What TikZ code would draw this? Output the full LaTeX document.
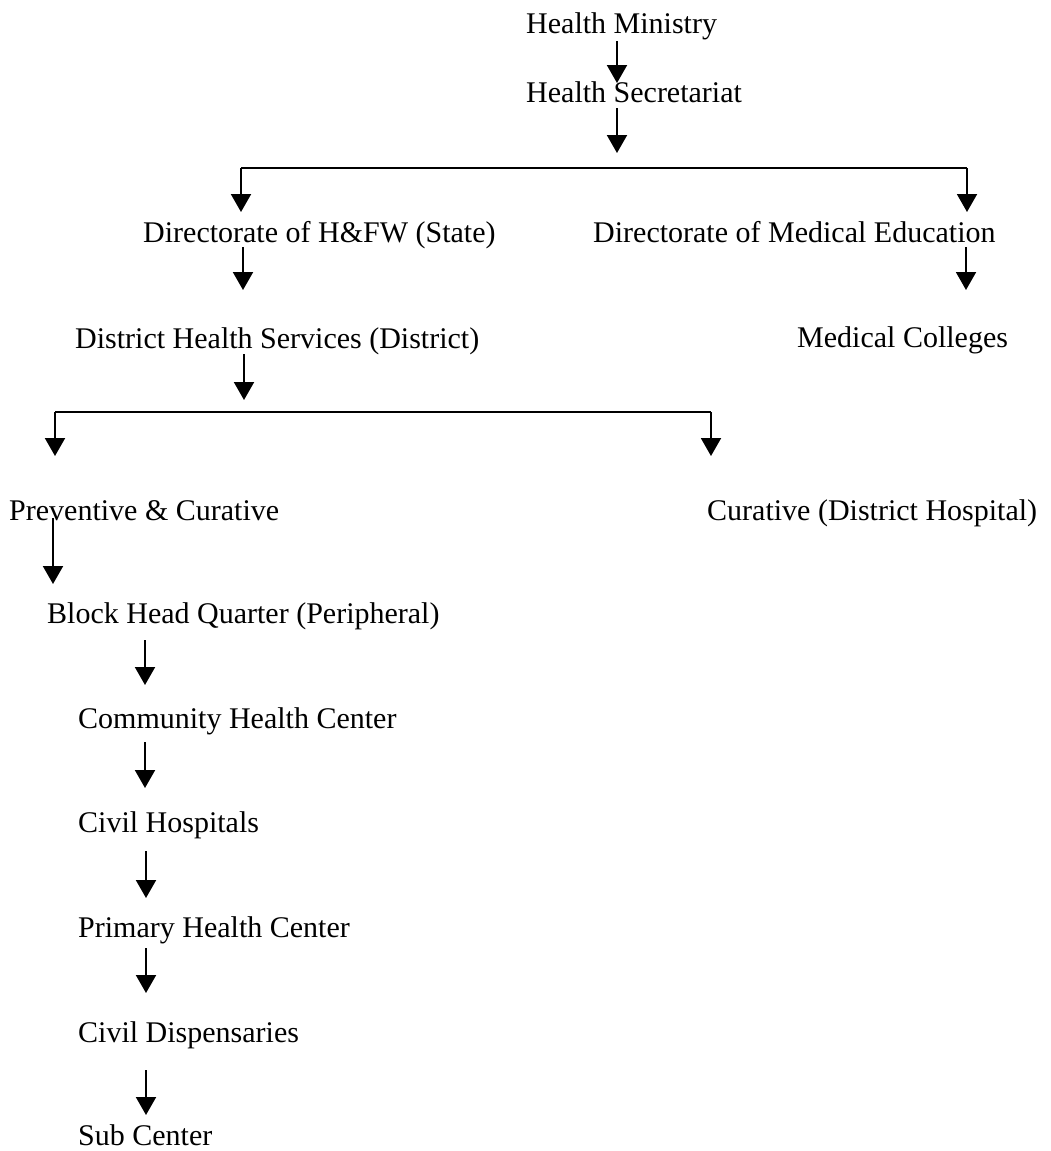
\documentclass[tikz,border=0pt]{standalone}
\usepackage{fontspec}
\setmainfont{Liberation Serif}
\usetikzlibrary{arrows.meta}
\begin{document}
\begin{tikzpicture}[x=1pt,y=-1pt,
  lbl/.style={anchor=base west,inner sep=0pt,font=\fontsize{30}{36}\selectfont},
  arr/.style={line width=2pt,-{Triangle[length=18pt,width=20pt]}},
  ln/.style={line width=2pt}]
\useasboundingbox[fill=white] (0,0) rectangle (1050,1151);
% text nodes
\node[lbl] (hm) at (526,33) {Health Ministry};
\node[lbl] (hs) at (526,102) {Health Secretariat};
\node[lbl] (dhfw) at (143,242) {Directorate of H\&FW (State)};
\node[lbl] (dme) at (593,242) {Directorate of Medical Education};
\node[lbl] (dhs) at (75,348) {District Health Services (District)};
\node[lbl] (mc) at (797,347) {Medical Colleges};
\node[lbl] (pc) at (9,520) {Preventive \& Curative};
\node[lbl] (cur) at (707,520) {Curative (District Hospital)};
\node[lbl] (bhq) at (47,623) {Block Head Quarter (Peripheral)};
\node[lbl] (chc) at (78,728) {Community Health Center};
\node[lbl] (ch) at (78,832) {Civil Hospitals};
\node[lbl] (phc) at (78,937) {Primary Health Center};
\node[lbl] (cd) at (78,1042) {Civil Dispensaries};
\node[lbl] (sc) at (78,1145) {Sub Center};
% connector end points
\coordinate (a1s) at (617,41);  \coordinate (a1e) at (617,83);
\coordinate (a2s) at (617,108); \coordinate (a2e) at (617,153);
\coordinate (b1l) at (241,168); \coordinate (b1r) at (967,168);
\coordinate (b1le) at (241,212); \coordinate (b1re) at (967,212);
\coordinate (a3s) at (243,247); \coordinate (a3e) at (243,290);
\coordinate (a4s) at (966,247); \coordinate (a4e) at (966,290);
\coordinate (a5s) at (244,354); \coordinate (a5e) at (244,400);
\coordinate (b2l) at (55,412); \coordinate (b2r) at (711,412);
\coordinate (b2le) at (55,456); \coordinate (b2re) at (711,456);
\coordinate (a6s) at (53,518); \coordinate (a6e) at (53,584);
\coordinate (a7s) at (145,640); \coordinate (a7e) at (145,685);
\coordinate (a8s) at (145,742); \coordinate (a8e) at (145,788);
\coordinate (a9s) at (146,851); \coordinate (a9e) at (146,898);
\coordinate (a10s) at (146,948); \coordinate (a10e) at (146,993);
\coordinate (a11s) at (146,1070); \coordinate (a11e) at (146,1115);
% connectors
\draw[arr] (a1s) -- (a1e);
\draw[arr] (a2s) -- (a2e);
\draw[ln] (b1l) -- (b1r);
\draw[arr] (b1l) -- (b1le);
\draw[arr] (b1r) -- (b1re);
\draw[arr] (a3s) -- (a3e);
\draw[arr] (a4s) -- (a4e);
\draw[arr] (a5s) -- (a5e);
\draw[ln] (b2l) -- (b2r);
\draw[arr] (b2l) -- (b2le);
\draw[arr] (b2r) -- (b2re);
\draw[arr] (a6s) -- (a6e);
\draw[arr] (a7s) -- (a7e);
\draw[arr] (a8s) -- (a8e);
\draw[arr] (a9s) -- (a9e);
\draw[arr] (a10s) -- (a10e);
\draw[arr] (a11s) -- (a11e);
\end{tikzpicture}
\end{document}
